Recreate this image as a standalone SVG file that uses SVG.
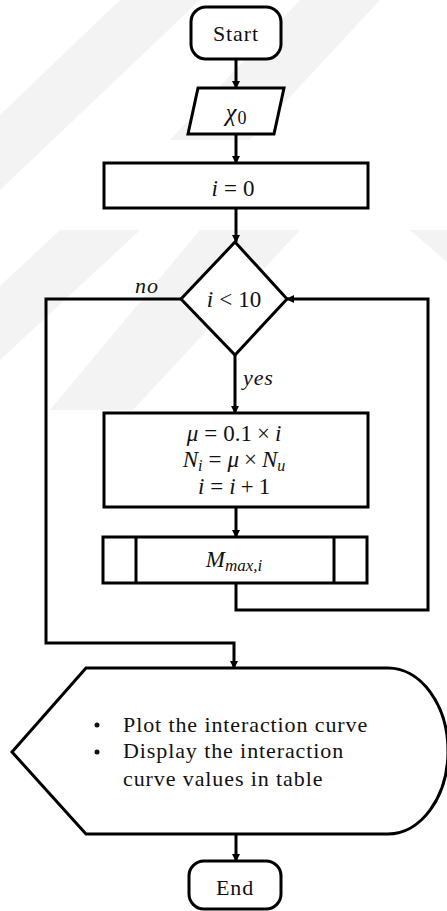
<svg xmlns="http://www.w3.org/2000/svg" width="447" height="911" viewBox="0 0 447 911">
  <style>
    .shape { fill: #ffffff; stroke: #000000; stroke-width: 3; }
    .line { fill: none; stroke: #000000; stroke-width: 3; }
    .t { font-family: "Liberation Serif", "Times New Roman", serif; font-size: 22px; letter-spacing: 0.9px; fill: #111111; }
    .m { font-family: "Liberation Serif", "Times New Roman", serif; font-size: 23px; fill: #111111; }
    .it { font-style: italic; }
    .wm { fill: #f3f3f3; }
  </style>
  <defs>
    <marker id="arrow" markerWidth="8" markerHeight="8" refX="7" refY="4" orient="auto" markerUnits="userSpaceOnUse">
      <path d="M0,0 L8,4 L0,8 Z" fill="#000000"/>
    </marker>
  </defs>
  <rect x="0" y="0" width="447" height="911" fill="#ffffff"/>
  <g id="watermark">
    <polygon class="wm" points="60,230 140,230 0,360 0,286"/>
    <polygon class="wm" points="200,230 300,230 133,410 50,410"/>
    <polygon class="wm" points="120,0 200,0 0,190 0,115"/>
    <polygon class="wm" points="300,0 380,0 250,140 170,140"/>
    <polygon class="wm" points="376,230 447,230 447,262 410,230"/>
  </g>
  <g id="connectors">
    <line class="line" x1="236" y1="59" x2="236" y2="88" marker-end="url(#arrow)"/>
    <line class="line" x1="236" y1="134" x2="236" y2="163" marker-end="url(#arrow)"/>
    <line class="line" x1="236" y1="208" x2="236" y2="242" marker-end="url(#arrow)"/>
    <line class="line" x1="235" y1="355" x2="235" y2="413" marker-end="url(#arrow)"/>
    <line class="line" x1="236" y1="507" x2="236" y2="537" marker-end="url(#arrow)"/>
    <polyline class="line" points="236,583 236,610 428,610 428,299 287,299" marker-end="url(#arrow)"/>
    <polyline class="line" points="181,299 46,299 46,643 234,643 234,668" marker-end="url(#arrow)"/>
    <line class="line" x1="236" y1="834" x2="236" y2="861" marker-end="url(#arrow)"/>
    <text class="t it" x="135" y="293">no</text>
    <text class="t it" x="243" y="385">yes</text>
  </g>
  <g id="start">
    <rect class="shape" x="191" y="7" width="90" height="52" rx="15"/>
    <text class="t" x="236" y="41" text-anchor="middle">Start</text>
  </g>
  <g id="input">
    <polygon class="shape" points="198,88 284,88 274,134 188,134"/>
    <text class="m" x="236" y="121" text-anchor="middle"><tspan class="it" font-size="25">χ</tspan><tspan font-size="18" dx="1" dy="3">0</tspan></text>
  </g>
  <g id="init">
    <rect class="shape" x="104" y="163" width="264" height="45"/>
    <text class="m" x="233" y="196" text-anchor="middle"><tspan class="it">i</tspan><tspan dx="6">=</tspan><tspan dx="6">0</tspan></text>
  </g>
  <g id="decision">
    <polygon class="shape" points="235,242 287,299 235,355 181,299"/>
    <text class="m" x="234" y="307" text-anchor="middle"><tspan class="it">i</tspan><tspan dx="6">&lt;</tspan><tspan dx="6">10</tspan></text>
  </g>
  <g id="process">
    <rect class="shape" x="104" y="413" width="264" height="94"/>
    <text class="m" x="234" y="441" text-anchor="middle"><tspan class="it">μ</tspan><tspan dx="6">=</tspan><tspan dx="6">0.1</tspan><tspan dx="5">×</tspan><tspan class="it" dx="5">i</tspan></text>
    <text class="m" x="234" y="467" text-anchor="middle"><tspan class="it">N</tspan><tspan class="it" font-size="16" dy="4">i</tspan><tspan dy="-4" dx="6">=</tspan><tspan class="it" dx="6">μ</tspan><tspan dx="5">×</tspan><tspan class="it" dx="5">N</tspan><tspan class="it" font-size="16" dy="4">u</tspan></text>
    <text class="m" x="234" y="494" text-anchor="middle"><tspan class="it">i</tspan><tspan dx="6">=</tspan><tspan class="it" dx="6">i</tspan><tspan dx="5">+</tspan><tspan dx="5">1</tspan></text>
  </g>
  <g id="subroutine">
    <rect class="shape" x="103" y="537" width="264" height="46"/>
    <line class="line" x1="136" y1="537" x2="136" y2="583"/>
    <line class="line" x1="334" y1="537" x2="334" y2="583"/>
    <text class="m" x="234" y="567" text-anchor="middle"><tspan class="it">M</tspan><tspan class="it" font-size="17" dy="4">max,i</tspan></text>
  </g>
  <g id="display">
    <path class="shape" d="M86,668 L388,668 A60,83 0 0 1 388,834 L86,834 L12,752 Z"/>
    <circle cx="97" cy="725" r="2.5" fill="#111111"/>
    <circle cx="97" cy="752" r="2.5" fill="#111111"/>
    <text class="t" x="123" y="732">Plot the interaction curve</text>
    <text class="t" x="123" y="758">Display the interaction</text>
    <text class="t" x="123" y="786">curve values in table</text>
  </g>
  <g id="end">
    <rect class="shape" x="189" y="861" width="92" height="48" rx="15"/>
    <text class="t" x="235" y="895" text-anchor="middle">End</text>
  </g>
</svg>
